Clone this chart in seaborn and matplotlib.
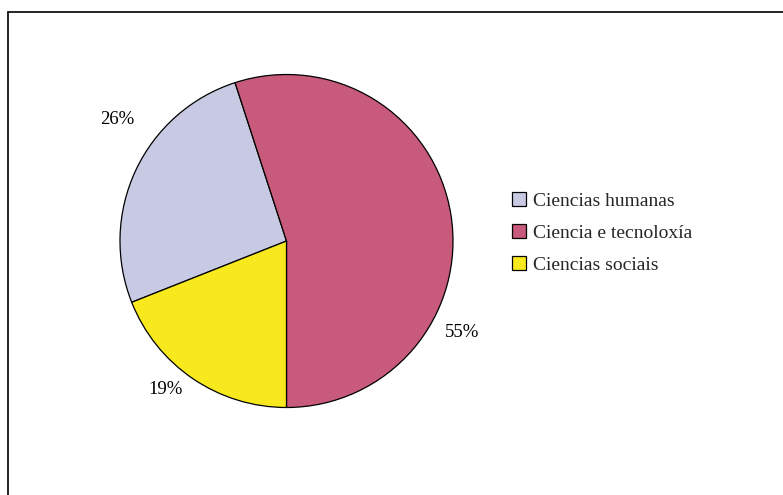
import matplotlib
matplotlib.use("Agg")
import matplotlib.pyplot as plt
import seaborn as sns
from matplotlib.lines import Line2D

categories = ["Ciencias humanas", "Ciencia e tecnoloxía", "Ciencias sociais"]
values = [26, 55, 19]
pct_labels = ["26%", "55%", "19%"]
colors = ["#C8CAE4", "#C85A7C", "#F7E91E"]

sns.set_theme(style="white")
plt.rcParams["font.family"] = ["Liberation Serif", "DejaVu Serif"]

fig = plt.figure(figsize=(7.83, 4.95), dpi=100)
ax = fig.add_axes([120 / 783, 87.5 / 495, 333 / 783, 333 / 495])

wedges, texts = ax.pie(
    values, labels=pct_labels, colors=colors, startangle=201.6,
    counterclock=False, labeldistance=1.2,
    wedgeprops=dict(edgecolor="black", linewidth=0.9),
    textprops=dict(fontsize=13.5, color="black"),
)
label_pos = [(-1.018, 0.727), (1.054, -0.55), (-0.727, -0.889)]
for t, (x, y) in zip(texts, label_pos):
    t.set_position((x, y))
    t.set_ha("center")
    t.set_va("center")
ax.set_xlim(-1, 1)
ax.set_ylim(-1, 1)
ax.set_aspect("equal")

leg = fig.legend(
    wedges, categories, loc="upper left",
    bbox_to_anchor=(504 / 783, 1 - 184 / 495),
    frameon=False, fontsize=14, handlelength=0.72, handleheight=0.72,
    handletextpad=0.35, labelspacing=0.74, borderaxespad=0,
)

fig.add_artist(Line2D([8 / 783, 1.0], [1 - 12 / 495, 1 - 12 / 495],
                      transform=fig.transFigure, color="black", linewidth=1.2))
fig.add_artist(Line2D([8 / 783, 8 / 783], [0, 1 - 12 / 495],
                      transform=fig.transFigure, color="black", linewidth=1.2))

fig.savefig("out.png", dpi=100)
